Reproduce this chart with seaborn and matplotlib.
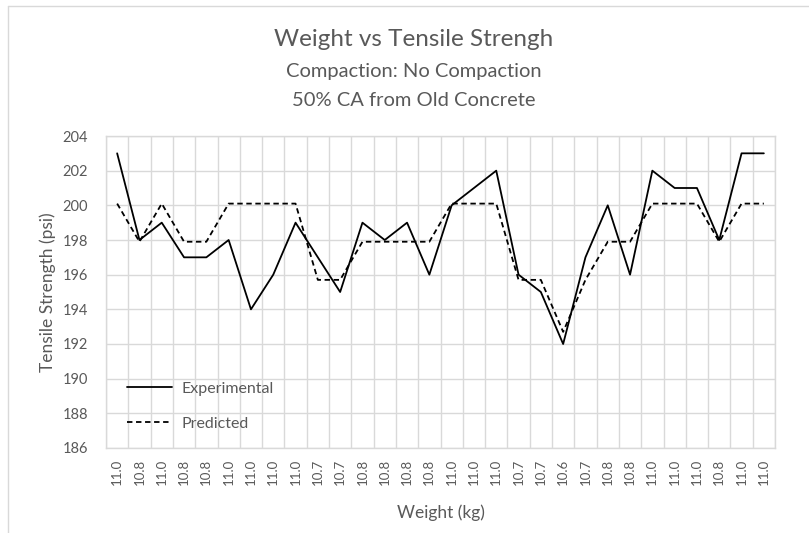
import pandas as pd
import matplotlib
matplotlib.use("Agg")
import matplotlib.pyplot as plt
import seaborn as sns
from matplotlib.lines import Line2D

# Chart data
weights = ['11.0', '10.8', '11.0', '10.8', '10.8', '11.0', '11.0', '11.0', '11.0', '10.7',
           '10.7', '10.8', '10.8', '10.8', '10.8', '11.0', '11.0', '11.0', '10.7', '10.7',
           '10.6', '10.7', '10.8', '10.8', '11.0', '11.0', '11.0', '10.8', '11.0', '11.0']
experimental = [203, 198, 199, 197, 197, 198, 194, 196, 199, 197,
                195, 199, 198, 199, 196, 200, 201, 202, 196, 195,
                192, 197, 200, 196, 202, 201, 201, 198, 203, 203]
predicted = [200.1, 197.9, 200.1, 197.9, 197.9, 200.1, 200.1, 200.1, 200.1, 195.7,
             195.7, 197.9, 197.9, 197.9, 197.9, 200.1, 200.1, 200.1, 195.7, 195.7,
             192.7, 195.7, 197.9, 197.9, 200.1, 200.1, 200.1, 197.9, 200.1, 200.1]

# Long-form table for seaborn
n = len(weights)
df = pd.DataFrame({
    'pos': list(range(n)) * 2,
    'strength': experimental + predicted,
    'series': ['Experimental'] * n + ['Predicted'] * n,
})

sns.set_style("white")
plt.rcParams['font.family'] = ['Lato', 'DejaVu Sans']

gray = '#595959'
light = '#d9d9d9'

fig = plt.figure(figsize=(8.09, 5.33), dpi=100)
ax = fig.add_axes([106 / 809, 1 - 448 / 533, (775 - 106) / 809, (448 - 136) / 533])

sns.lineplot(data=df, x='pos', y='strength', style='series',
             dashes={'Experimental': '', 'Predicted': (3, 2)},
             color='black', linewidth=1.3, ax=ax)

ax.set_xlim(-0.5, n - 0.5)
ax.set_ylim(186, 204)
ax.set_yticks(range(186, 205, 2))
ax.set_xticks(range(n))
ax.set_xticklabels(weights, rotation=90)
ax.set_xticks([i - 0.5 for i in range(n + 1)], minor=True)

ax.grid(axis='y', which='major', color=light, linewidth=1)
ax.grid(axis='x', which='minor', color=light, linewidth=1)
ax.grid(axis='x', which='major', visible=False)
ax.tick_params(axis='both', which='both', length=0, colors=gray)
ax.tick_params(axis='y', labelsize=10.5, pad=13)
ax.tick_params(axis='x', labelsize=9.5, pad=8)
for s in ax.spines.values():
    s.set_color(light)
    s.set_linewidth(1)

ax.set_xlabel('Weight (kg)', fontsize=12.5, color=gray, labelpad=14)
ax.set_ylabel('Tensile Strength (psi)', fontsize=12.5, color=gray, labelpad=5)

leg = ax.legend(loc='lower left', bbox_to_anchor=(0.01, 0.01), frameon=False,
                handlelength=2.8, labelspacing=1.3, fontsize=11.5, handletextpad=0.6)
for t in leg.get_texts():
    t.set_color(gray)

fig.text(414 / 809, 1 - 40 / 533, 'Weight vs Tensile Strengh', ha='center', va='center',
         fontsize=17.5, color=gray)
fig.text(414 / 809, 1 - 72 / 533, 'Compaction: No Compaction', ha='center', va='center',
         fontsize=14.5, color=gray)
fig.text(414 / 809, 1 - 100 / 533, '50% CA from Old Concrete', ha='center', va='center',
         fontsize=14.5, color=gray)

# Outer chart border (left and top edges visible)
fig.add_artist(Line2D([8 / 809, 8 / 809], [0, 1 - 6 / 533], color=light, linewidth=1,
                      transform=fig.transFigure))
fig.add_artist(Line2D([8 / 809, 1], [1 - 6 / 533, 1 - 6 / 533], color=light, linewidth=1,
                      transform=fig.transFigure))

fig.savefig('out.png', dpi=100)
